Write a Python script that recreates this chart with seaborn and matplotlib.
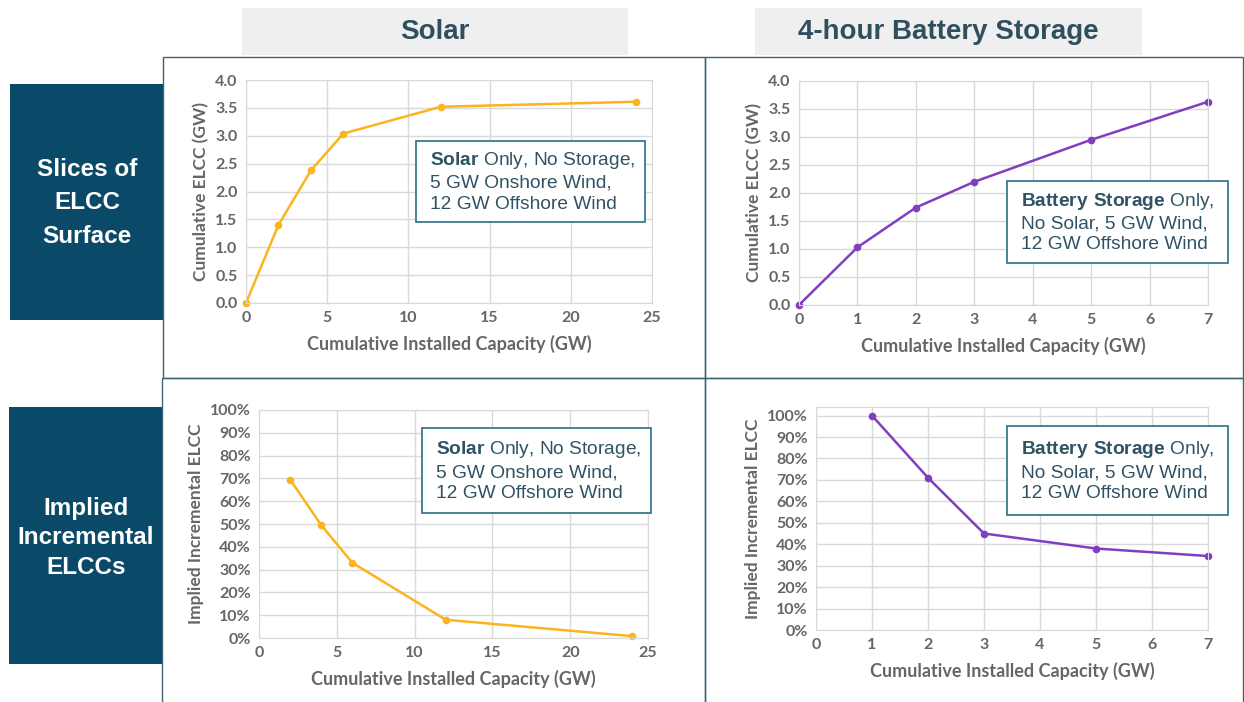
import numpy as np
import pandas as pd
import seaborn as sns
import matplotlib.pyplot as plt
from matplotlib.patches import Rectangle
from matplotlib.ticker import PercentFormatter, MultipleLocator

# data
solar_cap = [0, 2, 4, 6, 12, 24]
solar_elcc = [0.0, 1.40, 2.38, 3.04, 3.52, 3.61]
batt_cap = [0, 1, 2, 3, 5, 7]
batt_elcc = [0.0, 1.03, 1.74, 2.20, 2.95, 3.63]
solar_inc_cap = [2, 4, 6, 12, 24]
solar_inc = [0.695, 0.495, 0.33, 0.08, 0.008]
batt_inc_cap = [1, 2, 3, 5, 7]
batt_inc = [1.00, 0.71, 0.45, 0.38, 0.345]

col_titles = ["Solar", "4-hour Battery Storage"]
row_titles = ["Slices of\nELCC\nSurface", "Implied\nIncremental\nELCCs"]
solar_note = "$\\mathbf{Solar}$ Only, No Storage,\n5 GW Onshore Wind,\n12 GW Offshore Wind"
batt_note = "$\\mathbf{Battery\\ Storage}$ Only,\nNo Solar, 5 GW Wind,\n12 GW Offshore Wind"

sns.set_style("white")
plt.rcParams["font.family"] = ["Lato", "DejaVu Sans"]
plt.rcParams["mathtext.fontset"] = "custom"
plt.rcParams["mathtext.rm"] = "Liberation Sans"
plt.rcParams["mathtext.bf"] = "Liberation Sans:bold"

W, H = 1244, 702
fig = plt.figure(figsize=(W / 100, H / 100), dpi=100)

ORANGE = "#fbb41e"
PURPLE = "#7f3fbf"
NAVY = "#0a4a68"
FRAME = "#3e6576"
TXT = "#2f5364"
GRAY = "#666666"
GRID = "#d9d9d9"


def px_axes(l, r, t, b):
    return fig.add_axes([l / W, 1 - b / H, (r - l) / W, (b - t) / H])


def px_rect(x0, y0, x1, y1, **kw):
    fig.add_artist(Rectangle((x0 / W, 1 - y1 / H), (x1 - x0) / W, (y1 - y0) / H,
                             transform=fig.transFigure, **kw))


def style(ax, xmax, xstep, ymax, ystep, ylabel, pct=False, ytop=None):
    ax.set_xlim(0, xmax)
    ax.set_ylim(0, ytop if ytop else ymax)
    ax.xaxis.set_major_locator(MultipleLocator(xstep))
    ax.set_yticks(np.arange(0, ymax + ystep / 2, ystep))
    if pct:
        ax.yaxis.set_major_formatter(PercentFormatter(1.0, decimals=0))
    else:
        ax.yaxis.set_major_formatter("{x:.1f}")
    ax.grid(True, color=GRID, lw=1)
    for s in ax.spines.values():
        s.set_color(GRID)
    ax.tick_params(length=0, labelsize=11.5, labelcolor=GRAY, pad=6)
    for lab in ax.get_xticklabels() + ax.get_yticklabels():
        lab.set_fontweight("bold")
    ax.set_xlabel("Cumulative Installed Capacity (GW)", fontsize=13,
                  fontweight="bold", color=GRAY, labelpad=7)
    ax.set_ylabel(ylabel, fontsize=12.5, fontweight="bold", color=GRAY, labelpad=4)
    if ax.get_legend():
        ax.get_legend().remove()


def note(x0, y0, x1, y1, txt):
    px_rect(x0, y0, x1, y1, facecolor="white", edgecolor="#3b7890", lw=1.3, zorder=5)
    fig.text((x0 + 14) / W, 1 - (y0 + y1) / 2 / H, txt, ha="left", va="center",
             fontsize=13.8, color=TXT, family="Liberation Sans",
             linespacing=1.3, zorder=6)


# header boxes
px_rect(242, 8, 628, 55, facecolor="#efefef", edgecolor="none")
px_rect(755, 8, 1142, 55, facecolor="#efefef", edgecolor="none")
fig.text(435 / W, 1 - 32 / H, col_titles[0], ha="center", va="center",
         fontsize=20, fontweight="bold", color="#2f4f5f", family="Liberation Sans")
fig.text(948 / W, 1 - 32 / H, col_titles[1], ha="center", va="center",
         fontsize=20, fontweight="bold", color="#2f4f5f", family="Liberation Sans")

# row boxes
px_rect(10, 84, 163, 320, facecolor=NAVY, edgecolor="none")
px_rect(9, 407, 162, 664, facecolor=NAVY, edgecolor="none")
fig.text(87 / W, 1 - 203 / H, row_titles[0], ha="center", va="center",
         fontsize=17.5, fontweight="bold", color="white", family="Liberation Sans",
         linespacing=1.6)
fig.text(86 / W, 1 - 538 / H, row_titles[1], ha="center", va="center",
         fontsize=17.5, fontweight="bold", color="white", family="Liberation Sans",
         linespacing=1.35)

# panel frames
px_rect(163, 57, 705, 378, facecolor="none", edgecolor=FRAME, lw=1)
px_rect(705, 57, 1243, 378, facecolor="none", edgecolor=FRAME, lw=1)
px_rect(162, 378, 705, 703, facecolor="none", edgecolor=FRAME, lw=1)
px_rect(705, 378, 1243, 703, facecolor="none", edgecolor=FRAME, lw=1)

line_kw = dict(marker="o", markersize=5.5, linewidth=1.8, markeredgewidth=0)

ax1 = px_axes(246, 652, 80, 303)
sns.lineplot(data=pd.DataFrame({"x": solar_cap, "y": solar_elcc}), x="x", y="y",
             ax=ax1, color=ORANGE, **line_kw)
style(ax1, 25, 5, 4.0, 0.5, "Cumulative ELCC (GW)")

ax2 = px_axes(799, 1208, 81, 305)
sns.lineplot(data=pd.DataFrame({"x": batt_cap, "y": batt_elcc}), x="x", y="y",
             ax=ax2, color=PURPLE, **line_kw)
style(ax2, 7, 1, 4.0, 0.5, "Cumulative ELCC (GW)")

ax3 = px_axes(259, 648, 410, 638)
sns.lineplot(data=pd.DataFrame({"x": solar_inc_cap, "y": solar_inc}), x="x", y="y",
             ax=ax3, color=ORANGE, **line_kw)
style(ax3, 25, 5, 1.0, 0.1, "Implied Incremental ELCC", pct=True)

ax4 = px_axes(816, 1208, 407, 630)
sns.lineplot(data=pd.DataFrame({"x": batt_inc_cap, "y": batt_inc}), x="x", y="y",
             ax=ax4, color=PURPLE, **line_kw)
style(ax4, 7, 1, 1.0, 0.1, "Implied Incremental ELCC", pct=True, ytop=1.04)

for ax in (ax1, ax2, ax3, ax4):
    for l in ax.lines:
        l.set_clip_on(False)

note(416, 141, 645, 222, solar_note)
note(1007, 181, 1228, 263, batt_note)
note(422, 428, 651, 513, solar_note)
note(1007, 426, 1228, 515, batt_note)

fig.savefig("out.png", dpi=100, facecolor="white")
